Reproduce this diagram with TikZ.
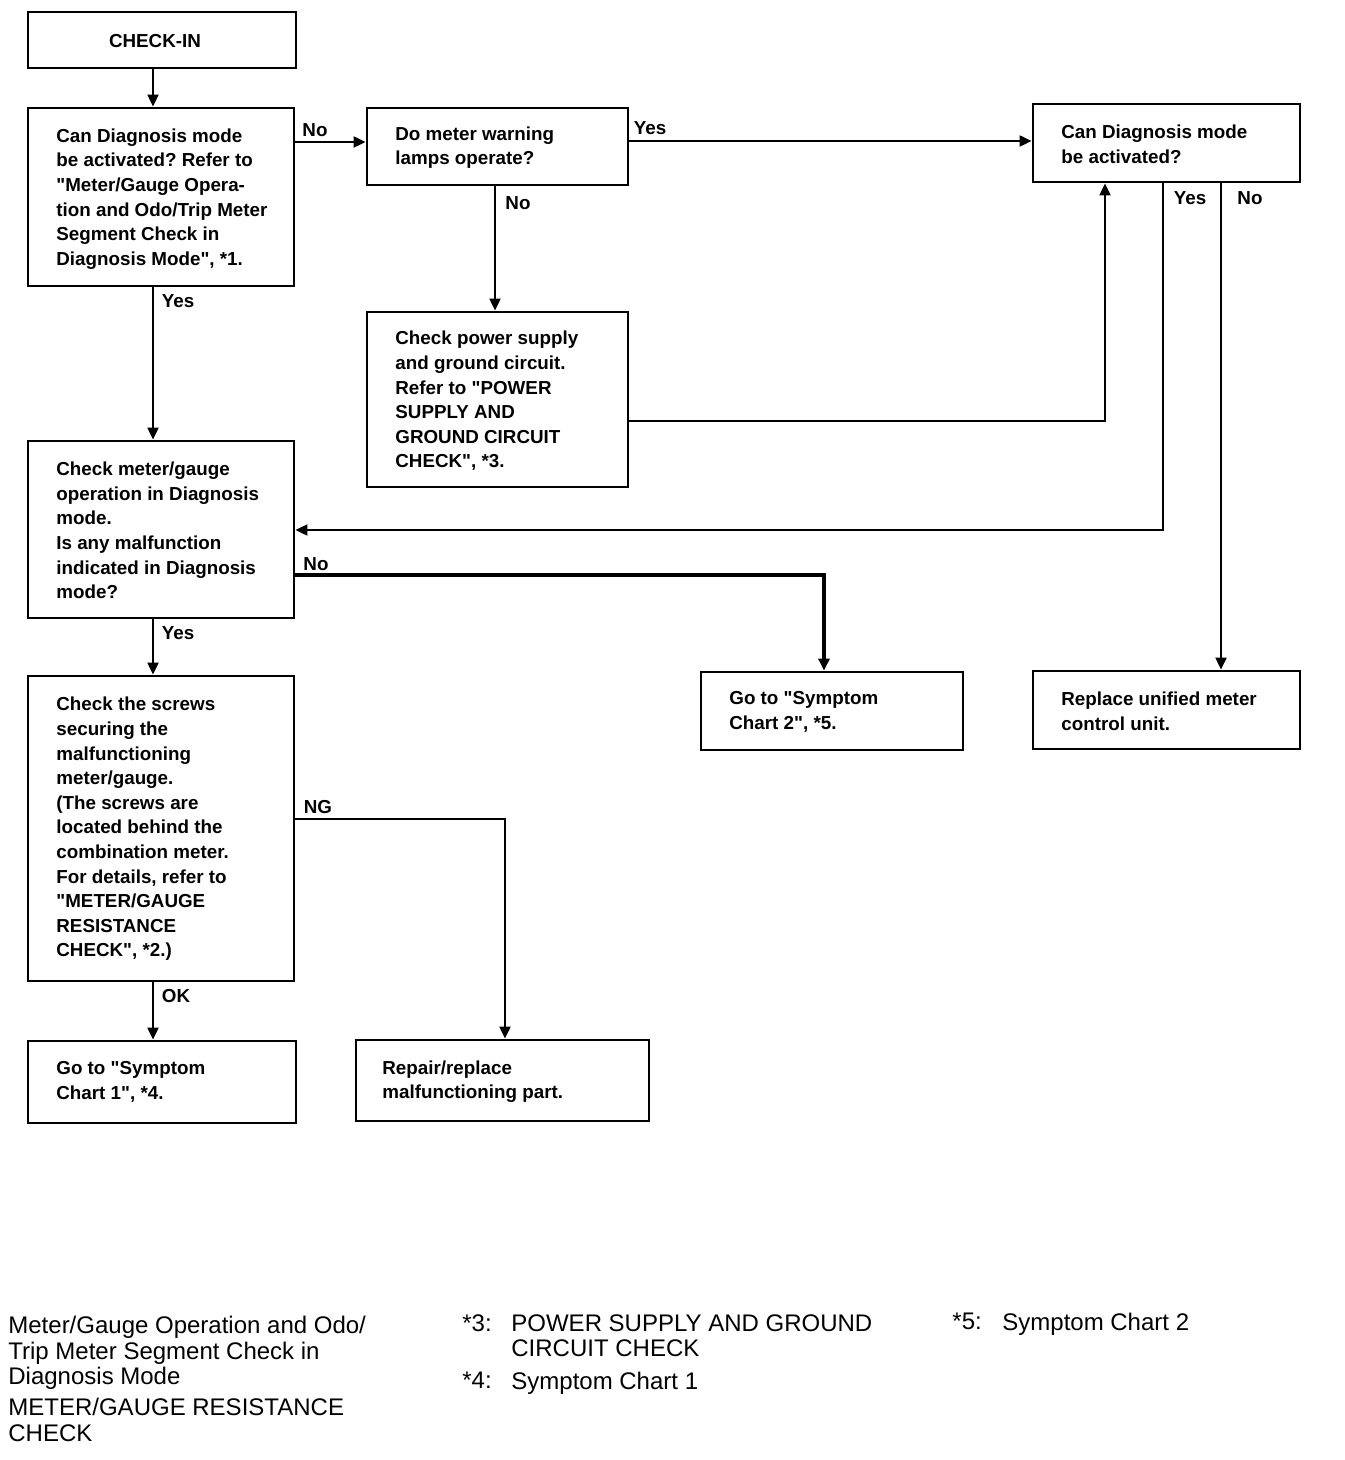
\documentclass[tikz,border=0pt]{standalone}
\usepackage{fontspec}
\setmainfont{Liberation Sans}[Ligatures=TeXOff]
\usetikzlibrary{arrows.meta}
\newcommand{\qt}{\symbol{34}}
\frenchspacing
\begin{document}
\begin{tikzpicture}[x=0.5pt,y=-0.5pt,
  box/.style={draw,line width=1.4pt,rectangle,inner sep=0pt},
  btxt/.style={anchor=west,inner sep=0pt,align=left,font=\bfseries\fontsize{9.4}{12.3}\selectfont},
  arr/.style={line width=1pt,-{Triangle[length=6pt,width=5.5pt]}},
  thickarr/.style={line width=1.8pt,-{Triangle[length=6pt,width=5.5pt]}},
  lab/.style={font=\bfseries\fontsize{9.4}{12.3}\selectfont,inner sep=0pt},
  leg/.style={font=\fontsize{12}{12.6}\selectfont,inner sep=0pt,anchor=north west,align=left}]
\useasboundingbox (0,0) rectangle (1344,1460);
% boxes
\node[box,minimum width=134pt,minimum height=28pt] (b0) at (162,40) {};
\node[box,minimum width=133pt,minimum height=89pt] (b1) at (161,197) {};
\node[box,minimum width=130.5pt,minimum height=38.5pt] (b2) at (497.5,146.5) {};
\node[box,minimum width=133.5pt,minimum height=39pt] (b3) at (1166.5,143) {};
\node[box,minimum width=130.5pt,minimum height=87.5pt] (b4) at (497.5,399.5) {};
\node[box,minimum width=133pt,minimum height=88.5pt] (b5) at (161,529.5) {};
\node[box,minimum width=133pt,minimum height=152.5pt] (b6) at (161,828.5) {};
\node[box,minimum width=131pt,minimum height=39pt] (b7) at (832,711) {};
\node[box,minimum width=133.5pt,minimum height=39pt] (b8) at (1166.5,710) {};
\node[box,minimum width=134pt,minimum height=41pt] (b9) at (162,1082) {};
\node[box,minimum width=146.5pt,minimum height=40.5pt] (b10) at (502.5,1080.5) {};
% box texts
\node[btxt,anchor=center] (t0) at (155,41) {CHECK-IN};
\node[btxt] (t1) at (56,199) {Can Diagnosis mode\\be activated? Refer to\\\qt Meter/Gauge Opera-\\tion and Odo/Trip Meter\\Segment Check in\\Diagnosis Mode\qt, *1.};
\node[btxt] (t2) at (395,147.5) {Do meter warning\\lamps operate?};
\node[btxt] (t3) at (1061,144.5) {Can Diagnosis mode\\be activated?};
\node[btxt] (t4) at (395,401) {Check power supply\\and ground circuit.\\Refer to \qt POWER\\SUPPLY AND\\GROUND CIRCUIT\\CHECK\qt, *3.};
\node[btxt] (t5) at (56,530.5) {Check meter/gauge\\operation in Diagnosis\\mode.\\Is any malfunction\\indicated in Diagnosis\\mode?};
\node[btxt] (t6) at (56,829) {Check the screws\\securing the\\malfunctioning\\meter/gauge.\\(The screws are\\located behind the\\combination meter.\\For details, refer to\\\qt METER/GAUGE\\RESISTANCE\\CHECK\qt, *2.)};
\node[btxt] (t7) at (729,712) {Go to \qt Symptom\\Chart 2\qt, *5.};
\node[btxt] (t8) at (1061,711) {Replace unified meter\\control unit.};
\node[btxt] (t9) at (56,1082) {Go to \qt Symptom\\Chart 1\qt, *4.};
\node[btxt] (t10) at (382,1081.5) {Repair/replace\\malfunctioning part.};
% connectors
\draw[arr] (b0.south -| 153,0) -- (b1.north -| 153,0);
\draw[arr] (b1.east |- 0,142) -- (b2.west |- 0,142);
\draw[arr] (b2.east |- 0,141) -- (b3.west |- 0,141);
\draw[arr] (b2.south -| 495,0) -- (b4.north -| 495,0);
\draw[arr] (b4.east |- 0,421) -| (b3.south -| 1105,0);
\draw[arr] (b3.south -| 1163,0) |- (b5.east |- 0,530);
\draw[arr] (b3.south -| 1221,0) -- (b8.north -| 1221,0);
\draw[arr] (b1.south -| 153,0) -- (b5.north -| 153,0);
\draw[thickarr] (b5.east |- 0,575) -| (b7.north -| 824,0);
\draw[arr] (b5.south -| 153,0) -- (b6.north -| 153,0);
\draw[arr] (b6.east |- 0,819) -| (b10.north -| 505,0);
\draw[arr] (b6.south -| 153,0) -- (b9.north -| 153,0);
% connector labels
\node[lab] (l1) at (315,130) {No};
\node[lab] (l2) at (650,128) {Yes};
\node[lab] (l3) at (518,203) {No};
\node[lab] (l4) at (1190,198) {Yes};
\node[lab] (l5) at (1250,198) {No};
\node[lab] (l6) at (178,301) {Yes};
\node[lab] (l7) at (316,564) {No};
\node[lab] (l8) at (178,633) {Yes};
\node[lab] (l9) at (318,807) {NG};
\node[lab] (l10) at (176,996) {OK};
% legend
\node[leg] (g1) at (8,1316) {Meter/Gauge Operation and Odo/\\Trip Meter Segment Check in\\Diagnosis Mode};
\node[leg] (g2) at (8,1398) {METER/GAUGE RESISTANCE\\CHECK};
\node[leg] (g3k) at (462,1314) {*3:};
\node[leg] (g3t) at (511,1314) {POWER SUPPLY AND GROUND\\CIRCUIT CHECK};
\node[leg] (g4k) at (462,1372) {*4:};
\node[leg] (g4t) at (511,1372) {Symptom Chart 1};
\node[leg] (g5k) at (952,1313) {*5:};
\node[leg] (g5t) at (1002,1313) {Symptom Chart 2};
\end{tikzpicture}
\end{document}
